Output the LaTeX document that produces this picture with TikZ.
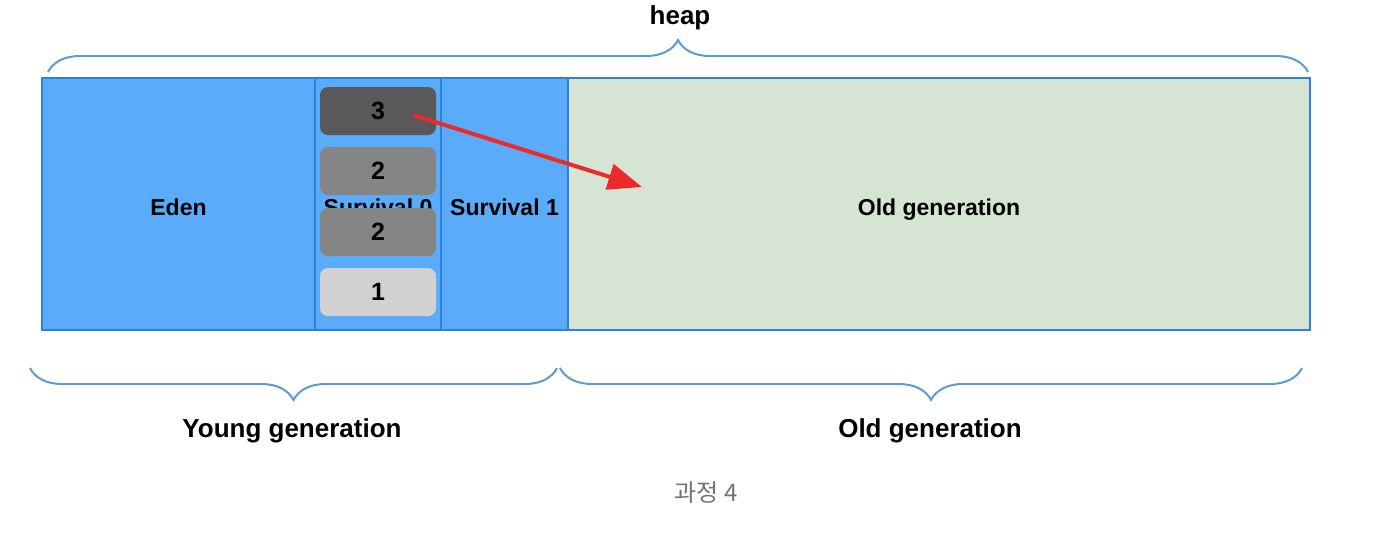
\documentclass[tikz,border=0pt]{standalone}
\usepackage{fontspec}
\setmainfont{Liberation Sans}
\newfontfamily\korfont{Noto Sans CJK KR}
\usetikzlibrary{arrows.meta,decorations.pathreplacing}
\definecolor{youngblue}{HTML}{5AABF9}
\definecolor{edgeblue}{HTML}{2F80D8}
\definecolor{oldgreen}{HTML}{D6E4D4}
\definecolor{bracecol}{HTML}{5E9BD6}
\definecolor{arrowred}{HTML}{EC2A2C}
\begin{document}
\begin{tikzpicture}[x=0.5pt,y=-0.5pt,
  region/.style={draw=edgeblue,line width=1pt,minimum height=126pt,inner sep=0pt,text height=11.5pt,text depth=0pt,font=\bfseries\fontsize{11.5}{13}\selectfont},
  objbox/.style={rounded corners=4pt,minimum width=58pt,minimum height=24pt,inner sep=0pt,font=\bfseries\fontsize{12.5}{14}\selectfont},
  genbrace/.style={decorate,decoration={brace,amplitude=16pt},draw=bracecol,line width=1pt},
  biglabel/.style={font=\bfseries\fontsize{13}{15}\selectfont}]
\useasboundingbox (0,0) rectangle (1374,532);

% heap areas
\node[region,fill=youngblue,minimum width=136.5pt] (eden) at (178.5,204) {Eden};
\node[region,fill=youngblue,minimum width=63pt] (surv0) at (378,204) {Survival 0};
\node[region,fill=youngblue,minimum width=63.5pt] (surv1) at (504.5,204) {Survival 1};
\node[region,fill=oldgreen,minimum width=371pt] (old) at (939,204) {Old generation};

% objects in survival 0
\node[objbox,fill=black!65] (obj3) at (378,111) {3};
\node[objbox,fill=black!48] (obj2a) at (378,171) {2};
\node[objbox,fill=black!48] (obj2b) at (378,232) {2};
\node[objbox,fill=black!18] (obj1) at (378,292) {1};

% promotion
\coordinate (dest) at (642,187);
\draw[arrowred,line width=2pt,-{Triangle[length=17pt,width=13pt]}] (413,115) -- (dest);

% braces
\coordinate (heapL) at (48,72);
\coordinate (heapR) at (1308,72);
\draw[genbrace] (heapL) -- (heapR);
\node[biglabel] (heap) at (680,18) {heap};

\coordinate (youngL) at (30,368);
\coordinate (youngR) at (557,368);
\coordinate (oldL) at (560,368);
\coordinate (oldR) at (1302,368);
\draw[genbrace] (youngR) -- (youngL);
\draw[genbrace] (oldR) -- (oldL);
\node[biglabel] (younglbl) at (292,431) {Young generation};
\node[biglabel] (oldlbl) at (930,431) {Old generation};

\node[font=\korfont\fontsize{12}{14}\selectfont,text=black!55] (caption) at (706,492) {과정 4};
\end{tikzpicture}
\end{document}
